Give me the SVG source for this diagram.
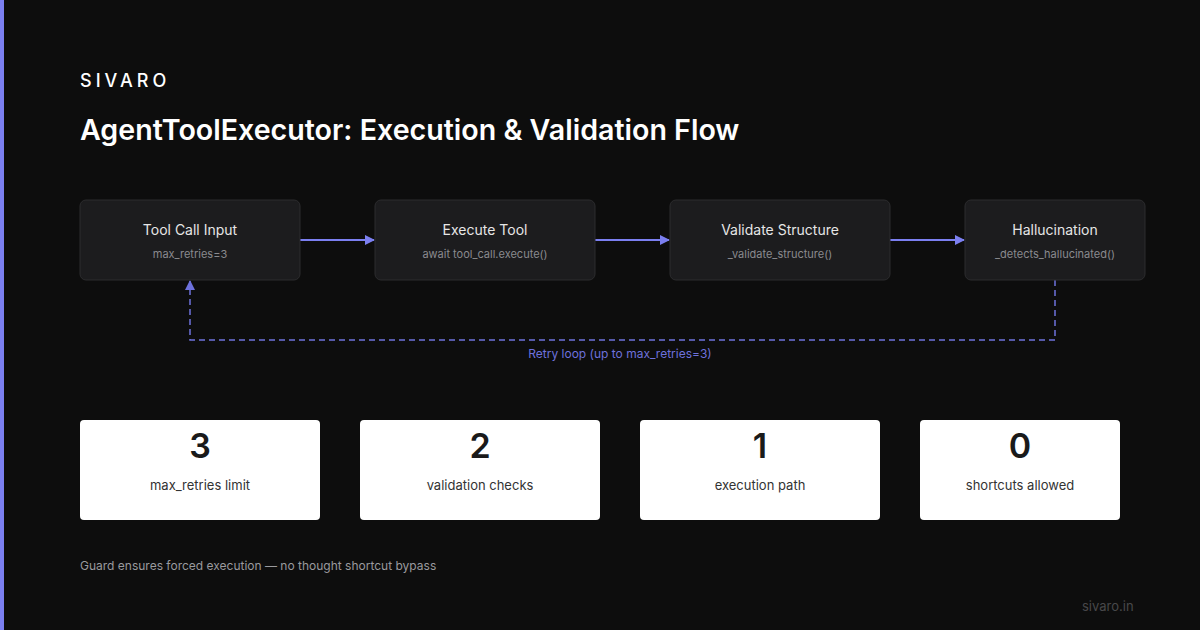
<svg xmlns="http://www.w3.org/2000/svg" width="1200" height="630" viewBox="0 0 1200 630">
<style>
.bg{fill:#0d0d0d}
.node rect{fill:#1c1c1e;stroke:#2c2c2e;stroke-width:1}
.nt{font-family:Inter,"Liberation Sans",sans-serif;font-size:14px;fill:#e6e6e6;text-anchor:middle}
.ns{font-family:Inter,"Liberation Sans",sans-serif;font-size:11px;fill:#8a8a8e;text-anchor:middle}
.flow{stroke:#7b7ff0;stroke-width:2;fill:none}
.loop{stroke:#6d71dc;stroke-width:1.5;fill:none;stroke-dasharray:6 4}
.card rect{fill:#ffffff}
.num{font-family:Inter,"Liberation Sans",sans-serif;font-size:34px;font-weight:600;fill:#1a1a1a;text-anchor:middle}
.lab{font-family:Inter,"Liberation Sans",sans-serif;font-size:13px;fill:#333333;text-anchor:middle}
</style>
<defs>
<marker id="ah" markerWidth="10" markerHeight="10" refX="9" refY="5" orient="auto" markerUnits="userSpaceOnUse">
<path d="M0,0 L10,5 L0,10 z" fill="#7b7ff0"/>
</marker>
<marker id="ah2" markerWidth="10" markerHeight="10" refX="9" refY="5" orient="auto" markerUnits="userSpaceOnUse">
<path d="M0,0 L10,5 L0,10 z" fill="#6d71dc"/>
</marker>
</defs>
<rect class="bg" x="0" y="0" width="1200" height="630"/>
<rect x="0" y="0" width="4" height="630" fill="#7b7ff0"/>
<text x="80" y="87" font-family="Inter,'Liberation Sans',sans-serif" font-size="18" font-weight="500" letter-spacing="4" fill="#ffffff">SIVARO</text>
<text x="80" y="140" font-family="Inter,'Liberation Sans',sans-serif" font-size="28.6" font-weight="600" fill="#ffffff">AgentToolExecutor: Execution &amp; Validation Flow</text>

<g id="connectors">
<line class="flow" x1="300" y1="240" x2="374" y2="240" marker-end="url(#ah)"/>
<line class="flow" x1="595" y1="240" x2="669" y2="240" marker-end="url(#ah)"/>
<line class="flow" x1="890" y1="240" x2="964" y2="240" marker-end="url(#ah)"/>
<path class="loop" d="M1055,280 L1055,340 L190,340 L190,281" marker-end="url(#ah2)"/>
<text x="620" y="358" font-family="Inter,'Liberation Sans',sans-serif" font-size="12" fill="#6d71dc" text-anchor="middle">Retry loop (up to max_retries=3)</text>
</g>

<g id="node-input" class="node">
<rect x="80" y="200" width="220" height="80" rx="6"/>
<text class="nt" x="190" y="235">Tool Call Input</text>
<text class="ns" x="190" y="258">max_retries=3</text>
</g>
<g id="node-execute" class="node">
<rect x="375" y="200" width="220" height="80" rx="6"/>
<text class="nt" x="485" y="235">Execute Tool</text>
<text class="ns" x="485" y="258">await tool_call.execute()</text>
</g>
<g id="node-validate" class="node">
<rect x="670" y="200" width="220" height="80" rx="6"/>
<text class="nt" x="780" y="235">Validate Structure</text>
<text class="ns" x="780" y="258">_validate_structure()</text>
</g>
<g id="node-halluc" class="node">
<rect x="965" y="200" width="180" height="80" rx="6"/>
<text class="nt" x="1055" y="235">Hallucination</text>
<text class="ns" x="1055" y="258">_detects_hallucinated()</text>
</g>

<g id="card-1" class="card">
<rect x="80" y="420" width="240" height="100" rx="4"/>
<text class="num" x="200" y="458">3</text>
<text class="lab" x="200" y="490">max_retries limit</text>
</g>
<g id="card-2" class="card">
<rect x="360" y="420" width="240" height="100" rx="4"/>
<text class="num" x="480" y="458">2</text>
<text class="lab" x="480" y="490">validation checks</text>
</g>
<g id="card-3" class="card">
<rect x="640" y="420" width="240" height="100" rx="4"/>
<text class="num" x="760" y="458">1</text>
<text class="lab" x="760" y="490">execution path</text>
</g>
<g id="card-4" class="card">
<rect x="920" y="420" width="200" height="100" rx="4"/>
<text class="num" x="1020" y="458">0</text>
<text class="lab" x="1020" y="490">shortcuts allowed</text>
</g>

<text x="80" y="570" font-family="Inter,'Liberation Sans',sans-serif" font-size="12" fill="#9a9a9e">Guard ensures forced execution — no thought shortcut bypass</text>
<text x="1082" y="611" font-family="Inter,'Liberation Sans',sans-serif" font-size="13" fill="#48484a">sivaro.in</text>
</svg>
